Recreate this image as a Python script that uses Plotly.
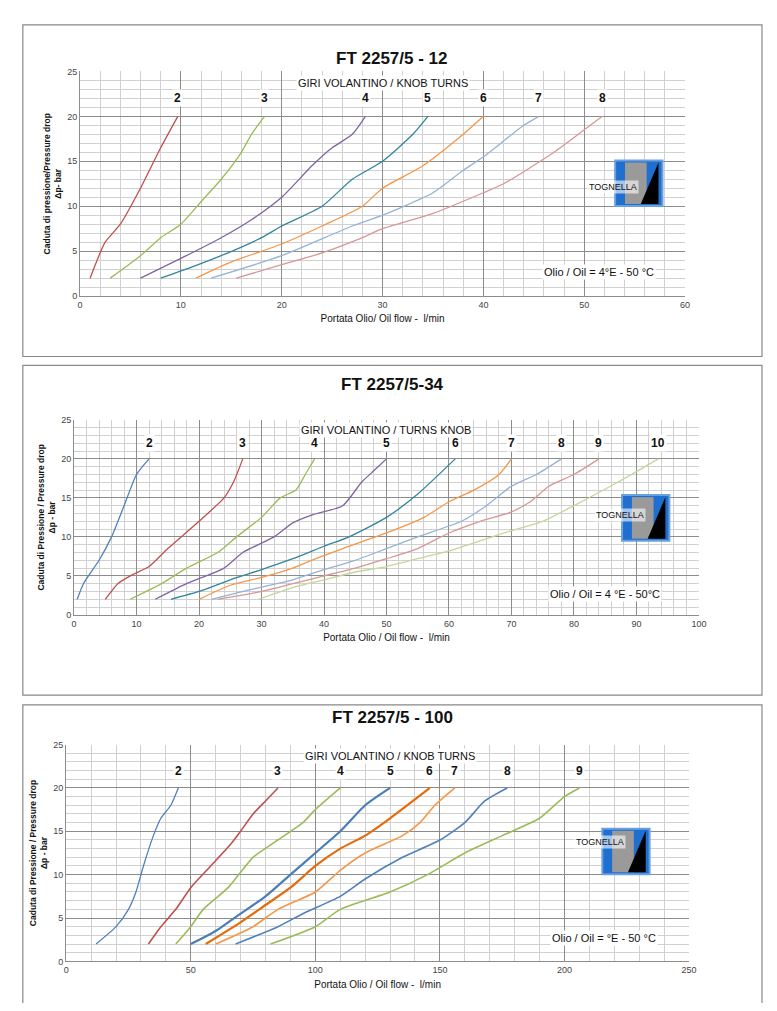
import plotly.graph_objects as go

# page body has an 8px margin, so the figure is drawn a bit smaller and offset
OFF = 8
W, H = 777 - 2 * OFF, 1011 - 2 * OFF


def px_x(p):
    return (p - OFF) / W


def px_y(p):
    return 1 - (p - OFF) / H


# ---- chart 1: FT 2257/5 - 12 ----
c1_turns = ["2", "3", "4", "5", "6", "7", "8"]
c1_x = [
    [1, 2.5, 4, 6, 8, 9.7],
    [3, 6, 8, 10, 12, 14, 16, 17, 18.3],
    [6, 10, 14, 17, 20, 23, 25, 27, 28.3],
    [8, 11, 14, 18, 20, 24, 27, 30, 33, 34.5],
    [11.5, 15, 20, 24, 28, 30, 34, 38, 40],
    [13, 20, 27, 30, 35, 38, 40, 44, 45.5],
    [15.5, 20, 24, 28, 30, 35, 40, 42, 47, 50, 51.8],
]
c1_y = [
    [2, 6, 8, 12, 16.5, 20],
    [2, 4.5, 6.5, 8, 10.5, 13, 16, 18, 20],
    [2, 4.2, 6.5, 8.5, 11, 14.5, 16.5, 18, 20],
    [2, 3.2, 4.5, 6.5, 7.8, 10, 13, 15, 18, 20],
    [2, 3.8, 5.8, 7.8, 10, 12, 14.5, 18, 20],
    [2, 4.5, 7.8, 9, 11.5, 14, 15.5, 19, 20],
    [2, 3.5, 4.8, 6.5, 7.5, 9.2, 11.5, 12.5, 16, 18.5, 20],
]
c1_colors = ["#c0504d", "#9bbb59", "#8064a2", "#31859c", "#f79646", "#95b3d7", "#d99694"]

# ---- chart 2: FT 2257/5-34 ----
c2_turns = ["2", "3", "4", "5", "6", "7", "8", "9", "10"]
c2_x = [
    [0.5, 1.5, 4, 6, 8, 10, 12],
    [5, 7, 9, 12, 15, 20, 24, 25.5, 27],
    [9, 14, 18, 23, 26, 30, 33, 35.5, 37, 38.5],
    [13, 18, 24, 27, 32, 35, 38, 43, 46, 48, 50],
    [15.5, 20, 25, 30, 35, 40, 44, 50, 55, 61],
    [20, 25, 30, 35, 38, 43, 50, 56, 60, 64, 68, 70],
    [22, 28, 35, 40, 45, 50, 55, 62, 66, 70, 74, 78],
    [23, 30, 35, 40, 45, 50, 55, 60, 65, 70, 73, 76, 80, 84],
    [29.5, 35, 40, 45, 50, 55, 60, 65, 70, 75, 80, 87, 93.5],
]
c2_y = [
    [2, 4, 7, 10, 14, 18, 20],
    [2, 4, 5, 6.2, 8.5, 12, 15, 17, 20],
    [2, 4, 6, 8, 10, 12.5, 15, 16, 18, 20],
    [2, 4, 6, 8, 10, 11.8, 12.8, 14, 17, 18.5, 20],
    [2, 3, 4.5, 5.8, 7.2, 8.8, 10, 12.5, 15.5, 20],
    [2, 3.8, 4.8, 6, 7, 8.5, 10.5, 12.5, 14.5, 16, 18, 20],
    [2, 3.2, 4.5, 5.8, 7, 8.5, 10, 12, 14, 16.5, 18, 20],
    [2, 3, 4, 5, 6, 7.2, 8.5, 10.5, 12, 13.2, 14.5, 16.5, 18, 20],
    [2, 3.5, 4.5, 5.5, 6.2, 7.2, 8.2, 9.5, 10.8, 12, 14, 17, 20],
]
c2_colors = ["#4f81bd", "#c0504d", "#9bbb59", "#8064a2", "#31859c", "#f79646",
             "#95b3d7", "#d99694", "#c3d69b"]

# ---- chart 3: FT 2257/5 - 100 ----
c3_turns = ["2", "3", "4", "5", "6", "7", "8", "9"]
c3_x = [
    [12, 20, 25, 28, 31, 35, 38, 42, 45],
    [33, 38, 44, 50, 58, 66, 70, 75, 80, 85],
    [44, 50, 55, 65, 75, 85, 95, 100, 110],
    [50, 60, 70, 80, 90, 100, 110, 120, 130],
    [56, 70, 80, 90, 100, 110, 120, 130, 146],
    [60, 75, 85, 100, 110, 120, 135, 142, 148, 156],
    [68, 85, 95, 110, 120, 135, 150, 160, 168, 177],
    [82, 100, 110, 130, 145, 160, 175, 190, 200, 206],
]
c3_y = [
    [2, 4, 6, 8, 11, 14.5, 16.5, 18, 20],
    [2, 4, 6, 8.5, 11, 13.5, 15, 17, 18.5, 20],
    [2, 4, 6, 8.5, 12, 14, 16, 17.5, 20],
    [2, 3.5, 5.5, 7.5, 10, 12.5, 15, 18, 20],
    [2, 4.5, 6.5, 8.5, 11, 13, 14.5, 16.5, 20],
    [2, 4, 6, 8, 10.5, 12.5, 14.5, 16, 18, 20],
    [2, 4, 5.5, 7.5, 9.5, 12, 14, 16, 18.5, 20],
    [2, 4, 6, 8, 10, 12.5, 14.5, 16.5, 19, 20],
]
c3_colors = ["#4f81bd", "#c0504d", "#9bbb59", "#4a7eb5", "#e46c0a", "#f79646",
             "#4f81bd", "#9bbb59"]
c3_widths = [1.3, 1.6, 1.6, 2.2, 2.2, 1.6, 1.6, 1.6]

charts = [
    dict(title="FT 2257/5 - 12", xs=c1_x, ys=c1_y, turns=c1_turns, colors=c1_colors,
         widths=[1.3] * 7, xmax=60, xmajor=10, xminor=2,
         px=(78, 692), py=(67, 294), box=(20, 770, 20, 355), ty=42,
         ytitle="Caduta di pressione/Pressure drop<br>Δp- bar",
         xtitle="Portata Olio/ Oil flow -  l/min", head="GIRI VOLANTINO / KNOB TURNS",
         headx=30, oil="Olio / Oil = 4°E - 50 °C", oilx=51.5, logo=(645, 180)),
    dict(title="FT 2257/5-34", xs=c2_x, ys=c2_y, turns=c2_turns, colors=c2_colors,
         widths=[1.3] * 9, xmax=100, xmajor=10, xminor=2,
         px=(72, 706), py=(419, 616), box=(20, 770, 364, 697), ty=383,
         ytitle="Caduta di Pressione / Pressure drop<br>Δp - bar",
         xtitle="Portata Olio / Oil flow -  l/min", head="GIRI VOLANTINO / TURNS KNOB",
         headx=50, oil="Olio / Oil = 4 °E - 50°C", oilx=85, logo=(652, 518)),
    dict(title="FT 2257/5 - 100", xs=c3_x, ys=c3_y, turns=c3_turns, colors=c3_colors,
         widths=c3_widths, xmax=250, xmajor=50, xminor=10,
         px=(64, 696), py=(747, 966), box=(20, 770, 707, 1040), ty=731,
         ytitle="Caduta di Pressione / Pressure drop<br>Δp - bar",
         xtitle="Portata Olio / Oil flow -  l/min", head="GIRI VOLANTINO / KNOB TURNS",
         headx=130, oil="Olio / Oil = °E - 50 °C", oilx=216, logo=(632, 855)),
]

fig = go.Figure()
shapes, annos = [], []
font = "Liberation Sans Narrow, Arial Narrow, Liberation Sans"

for i, c in enumerate(charts):
    n = "" if i == 0 else str(i + 1)
    xa, ya = "x" + n, "y" + n
    x0, x1, y0, y1 = c["box"]
    shapes.append(dict(type="rect", xref="paper", yref="paper", x0=px_x(x0), x1=px_x(x1),
                       y0=px_y(y1), y1=px_y(y0), line=dict(color="#888", width=1.2)))
    annos.append(dict(text="<b>" + c["title"] + "</b>", xref="paper", yref="paper",
                      x=px_x(395), y=px_y(c["ty"]), showarrow=False,
                      font=dict(size=17, family=font, color="#111")))
    for k in range(len(c["xs"])):
        fig.add_trace(go.Scatter(x=c["xs"][k], y=c["ys"][k], mode="lines", xaxis=xa, yaxis=ya,
                                 line=dict(color=c["colors"][k], width=c["widths"][k],
                                           shape="spline", smoothing=0.6),
                                 showlegend=False, hoverinfo="skip"))
        annos.append(dict(text="<b>" + c["turns"][k] + "</b>", x=c["xs"][k][-1], y=22,
                          xref=xa, yref=ya, showarrow=False, bgcolor="white",
                          font=dict(size=12, family=font, color="#111")))
    annos.append(dict(text=c["head"], x=c["headx"], y=23.7, xref=xa, yref=ya, showarrow=False,
                      bgcolor="white", font=dict(size=11, family=font, color="#111")))
    annos.append(dict(text=c["oil"], x=c["oilx"], y=2.7, xref=xa, yref=ya, showarrow=False,
                      bgcolor="white", font=dict(size=11, family=font, color="#111")))
    # logo
    lx, ly = c["logo"]
    shapes.append(dict(type="rect", xref="paper", yref="paper", x0=px_x(lx - 24), x1=px_x(lx + 24),
                       y0=px_y(ly + 23), y1=px_y(ly - 23),
                       fillcolor="#1f6fd0", line=dict(color="#6aa0e0", width=2)))
    shapes.append(dict(type="rect", xref="paper", yref="paper", x0=px_x(lx - 14), x1=px_x(lx + 8),
                       y0=px_y(ly + 21), y1=px_y(ly - 21),
                       fillcolor="#9a9a9a", line=dict(width=0)))
    shapes.append(dict(type="path", xref="paper", yref="paper",
                       path="M %f %f L %f %f L %f %f Z" % (px_x(lx + 2), px_y(ly + 21),
                                                          px_x(lx + 20), px_y(ly - 21),
                                                          px_x(lx + 20), px_y(ly + 21)),
                       fillcolor="black", line=dict(width=0)))
    annos.append(dict(text="TOGNELLA", xref="paper", yref="paper", x=px_x(lx), y=px_y(ly - 3),
                      showarrow=False, font=dict(size=9, family=font, color="#111"),
                      bgcolor="rgba(255,255,255,0.6)"))
    dom_x = [px_x(c["px"][0]), px_x(c["px"][1])]
    dom_y = [px_y(c["py"][1]), px_y(c["py"][0])]
    grid = dict(showgrid=True, gridcolor="#8c8c8c", gridwidth=1, showline=True,
                linecolor="#8c8c8c", mirror=False, zeroline=False, ticks="",
                tickfont=dict(size=9, color="#444", family=font))
    fig.update_layout(**{
        "xaxis" + n: dict(domain=dom_x, range=[0, c["xmax"]], dtick=c["xmajor"], anchor=ya,
                          minor=dict(dtick=c["xminor"], showgrid=True, gridcolor="#d0d0d0"),
                          title=dict(text=c["xtitle"], font=dict(size=10, family=font, color="#111"),
                                     standoff=6), **grid),
        "yaxis" + n: dict(domain=dom_y, range=[0, 25], dtick=5, anchor=xa,
                          minor=dict(dtick=1, showgrid=True, gridcolor="#d0d0d0"),
                          title=dict(text="<b>" + c["ytitle"] + "</b>",
                                     font=dict(size=8.5, family="Liberation Sans", color="#111"),
                                     standoff=4), **grid),
    })

fig.update_layout(width=W, height=H, margin=dict(l=0, r=0, t=0, b=0),
                  paper_bgcolor="white", plot_bgcolor="white", shapes=shapes, annotations=annos)
fig.write_html("out.html")
